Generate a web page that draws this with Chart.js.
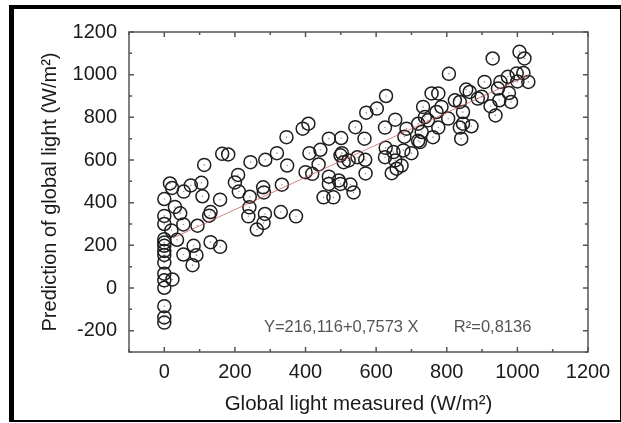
<!DOCTYPE html>
<html lang="en">
<head>
<meta charset="UTF-8">
<title>Prediction of global light</title>
<script src="https://cdn.jsdelivr.net/npm/chart.js"></script>
<style>
  html, body { margin: 0; padding: 0; background: #fff; }
  .wrap { position: relative; width: 621px; height: 423px; }
  .frame {
    position: absolute; left: 9px; top: 5px; right: 0; bottom: 1px;
    border-left: 5px solid #000; border-top: 4px solid #000;
    border-bottom: 2px solid #000; border-right: 1px solid #000;
    pointer-events: none;
  }
</style>
</head>
<body>
<div class="wrap">
  <canvas id="chart" width="621" height="423"></canvas>
  <div class="frame"></div>
</div>
<script>
// measured (x) and predicted (y) global light, W/m²
const measured = [
  0, 0, 0, 0, 0, 0, 0, 0, 0, 0, 0, 0, 0, 0, 0,
  16, 22, 20, 30, 45, 36, 23, 55, 54, 54, 75, 94, 91, 83, 80,
  105, 108, 113, 127, 131, 131, 158, 158, 164, 181, 209, 200, 211, 242, 241,
  238, 244, 280, 282, 285, 281, 262, 286, 319, 333, 330, 346, 348, 373, 392,
  408, 411, 442, 437, 400, 419, 466, 494, 466, 499, 527, 536, 451, 479, 466,
  501, 541, 567, 570, 503, 499, 522, 508, 547, 569, 572, 602, 628, 625, 654,
  686, 719, 625, 654, 649, 627, 677, 700, 658, 644, 672, 680, 719,
  1006, 1020, 930, 806, 907, 998, 1017, 1000, 1031, 973, 952, 945, 976, 982, 949,
  924, 938, 865, 855, 888, 899, 837, 823, 776, 757, 733, 771, 785, 804, 738,
  747, 846, 846, 870, 837, 776, 761, 841, 729, 724
];
const predicted = [
  417, 338, 300, 229, 213, 198, 174, 155, 119, 67, 36, 1, -85, -138, -162,
  490, 469, 270, 380, 350, 226, 40, 452, 298, 157, 481, 292, 154, 198, 107,
  493, 430, 577, 339, 356, 215, 193, 414, 629, 626, 530, 495, 452, 428, 378,
  336, 590, 472, 448, 347, 305, 274, 601, 632, 484, 356, 707, 574, 336, 747,
  770, 632, 648, 579, 543, 535, 522, 504, 488, 488, 485, 448, 425, 425, 700,
  703, 754, 700, 537, 632, 622, 598, 590, 613, 601, 822, 841, 900, 752, 789,
  747, 770, 613, 598, 637, 657, 645, 632, 559, 538, 574, 709, 690,
  1107, 1076, 1076, 1004, 966, 1006, 1008, 968, 966, 990, 966, 935, 914, 872, 880,
  852, 809, 919, 930, 888, 897, 872, 880, 912, 912, 849, 825, 849, 794, 801,
  786, 825, 770, 758, 752, 752, 707, 700, 731, 684
];

// fitted line
const fitX = [25, 1035];
const fitY = [235, 1000];

const eqLabel = 'Y=216,116+0,7573 X';
const r2Label = 'R²=0,8136';
const eqPos = [282, -183];
const r2Pos = [820, -183];

const xTitle = 'Global light measured (W/m²)';
const yTitle = 'Prediction of global light (W/m²)';

const FONT = 'Liberation Sans, Arial, sans-serif';

const points = measured.map((x, i) => ({ x, y: predicted[i] }));
const fitLine = fitX.map((x, i) => ({ x, y: fitY[i] }));

// plot box with inward ticks on all four sides + regression text
const boxTicks = {
  id: 'boxTicks',
  afterDraw(chart) {
    const { ctx, chartArea: a, scales: { x, y } } = chart;
    ctx.save();
    ctx.strokeStyle = '#555';
    ctx.lineWidth = 1.5;
    ctx.strokeRect(a.left, a.top, a.right - a.left, a.bottom - a.top);
    ctx.beginPath();
    x.ticks.forEach(t => {
      const px = x.getPixelForValue(t.value);
      const len = t.value % 200 === 0 ? 5 : 3;
      ctx.moveTo(px, a.bottom); ctx.lineTo(px, a.bottom - len);
      ctx.moveTo(px, a.top); ctx.lineTo(px, a.top + len);
    });
    y.ticks.forEach(t => {
      const py = y.getPixelForValue(t.value);
      const len = t.value % 200 === 0 ? 5 : 3;
      ctx.moveTo(a.left, py); ctx.lineTo(a.left + len, py);
      ctx.moveTo(a.right, py); ctx.lineTo(a.right - len, py);
    });
    ctx.stroke();

    ctx.fillStyle = '#555';
    ctx.font = '16.5px ' + FONT;
    ctx.textBaseline = 'middle';
    ctx.fillText(eqLabel, x.getPixelForValue(eqPos[0]), y.getPixelForValue(eqPos[1]));
    ctx.fillText(r2Label, x.getPixelForValue(r2Pos[0]), y.getPixelForValue(r2Pos[1]));
    ctx.restore();
  }
};

new Chart(document.getElementById('chart'), {
  type: 'scatter',
  data: {
    datasets: [
      {
        type: 'line',
        data: fitLine,
        borderColor: 'rgba(200, 90, 90, 0.75)',
        borderWidth: 1,
        pointRadius: 0,
        fill: false
      },
      {
        data: points,
        pointRadius: 6.5,
        borderColor: '#1e1e1e',
        borderWidth: 1.5,
        backgroundColor: 'rgba(0,0,0,0)'
      },
      {
        data: points,
        pointRadius: 0.8,
        borderWidth: 0,
        backgroundColor: '#999'
      }
    ]
  },
  options: {
    responsive: false,
    animation: false,
    layout: { padding: { left: 0, top: 32, right: 33, bottom: 0 } },
    plugins: { legend: { display: false }, tooltip: { enabled: false } },
    scales: {
      x: {
        type: 'linear',
        min: -100, max: 1200,
        afterFit: s => { s.height = 71; },
        grid: { display: false, drawTicks: false },
        border: { display: false },
        ticks: {
          stepSize: 100, autoSkip: false, maxRotation: 0, padding: 8,
          color: '#1a1a1a', font: { family: FONT, size: 20 },
          callback: v => (v % 200 === 0 ? v : '')
        },
        title: {
          display: true, text: xTitle, color: '#1a1a1a',
          font: { family: FONT, size: 20.5 }, padding: { top: 0, bottom: 6 }
        }
      },
      y: {
        min: -300, max: 1200,
        afterFit: s => { s.width = 129; },
        grid: { display: false, drawTicks: false },
        border: { display: false },
        ticks: {
          stepSize: 100, autoSkip: false, padding: 12,
          color: '#1a1a1a', font: { family: FONT, size: 20 },
          callback: v => (v % 200 === 0 ? v : '')
        },
        title: {
          display: true, text: yTitle, color: '#1a1a1a',
          font: { family: FONT, size: 20 }, padding: { top: 38, bottom: 0 }
        }
      }
    }
  },
  plugins: [boxTicks]
});
</script>
</body>
</html>
